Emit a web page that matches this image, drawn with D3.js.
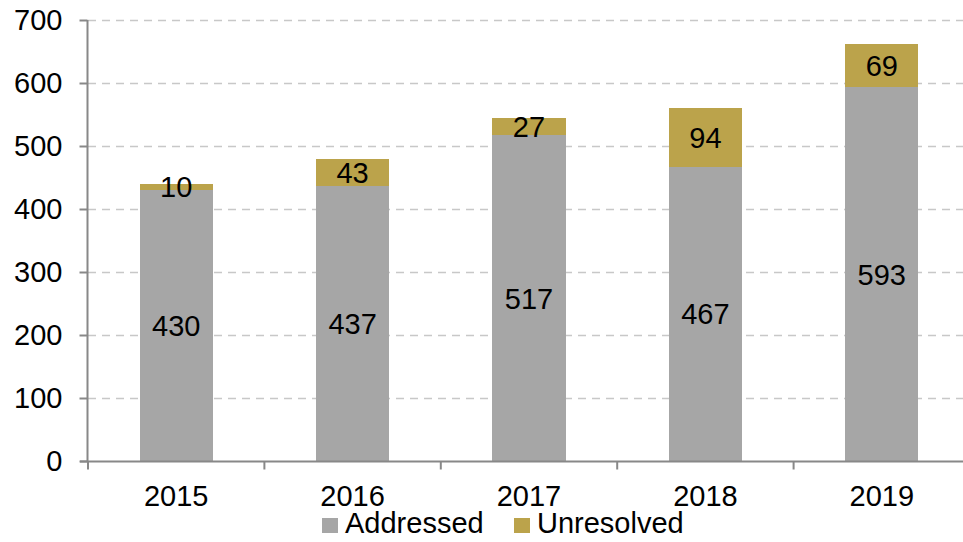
<!DOCTYPE html>
<html>
<head>
<meta charset="utf-8">
<script src="https://cdn.jsdelivr.net/npm/d3@7"></script>
<style>
  body { margin: 0; background: #fff; }
  text { font-family: "Liberation Sans", Arial, sans-serif; }
</style>
</head>
<body>
<div id="g"></div>
<script>
// chart data
var years = ["2015", "2016", "2017", "2018", "2019"];
var addressed = [430, 437, 517, 467, 593];
var unresolved = [10, 43, 27, 94, 69];
var yTicks = [0, 100, 200, 300, 400, 500, 600, 700];
var seriesNames = ["Addressed", "Unresolved"];
var seriesColors = ["#a6a6a6", "#bba34b"];

var WIDTH = 963, HEIGHT = 542;
var FONT = 29;
var plotLeft = 88, plotRight = 970, plotTop = 20, plotBottom = 461;

var svg = d3.select("#g").append("svg")
    .attr("width", WIDTH)
    .attr("height", HEIGHT);

var x = d3.scaleBand().domain(years).range([plotLeft, plotRight]).paddingInner(0.586).paddingOuter(0.293);
var y = d3.scaleLinear().domain([0, 700]).range([plotBottom, plotTop]);

// gridlines
svg.append("g").selectAll("line")
    .data(yTicks.slice(1))
    .enter().append("line")
    .attr("x1", plotLeft).attr("x2", plotRight)
    .attr("y1", function(d){ return y(d) + 0.5; })
    .attr("y2", function(d){ return y(d) + 0.5; })
    .attr("stroke", "#c8c8c8")
    .attr("stroke-width", 1.3)
    .attr("stroke-dasharray", "8,6");

// stacked bars
var rows = years.map(function(yr, i){
    return {year: yr, Addressed: addressed[i], Unresolved: unresolved[i]};
});
var stack = d3.stack().keys(seriesNames)(rows);

var layers = svg.append("g").selectAll("g")
    .data(stack)
    .enter().append("g")
    .attr("fill", function(d, i){ return seriesColors[i]; });

layers.selectAll("rect")
    .data(function(d){ return d; })
    .enter().append("rect")
    .attr("x", function(d){ return x(d.data.year); })
    .attr("width", x.bandwidth())
    .attr("y", function(d){ return y(d[1]); })
    .attr("height", function(d){ return y(d[0]) - y(d[1]); })
    .attr("shape-rendering", "crispEdges");

layers.selectAll("text")
    .data(function(d){ return d; })
    .enter().append("text")
    .attr("x", function(d){ return x(d.data.year) + x.bandwidth()/2; })
    .attr("y", function(d){ return y((d[0] + d[1]) / 2); })
    .attr("dy", "0.36em")
    .attr("text-anchor", "middle")
    .attr("font-size", FONT)
    .attr("fill", "#000")
    .text(function(d){ return d[1] - d[0]; });

// y axis
var yAxis = svg.append("g")
    .attr("transform", "translate(" + (plotLeft - 0.5) + ",0)")
    .call(d3.axisLeft(y).tickValues(yTicks).tickSize(8).tickPadding(17));
yAxis.selectAll("text").attr("font-size", FONT).attr("fill", "#000")
    .attr("font-family", "Liberation Sans, Arial, sans-serif");
yAxis.selectAll("line, path").attr("stroke", "#888").attr("stroke-width", 2);
yAxis.select("path").attr("d", "M0," + plotTop + "V" + (plotBottom + 1));

// x axis, ticks at category boundaries
var xAxisG = svg.append("g").attr("transform", "translate(0," + (plotBottom + 0.5) + ")");
xAxisG.append("line")
    .attr("x1", plotLeft - 8).attr("x2", plotRight)
    .attr("stroke", "#888").attr("stroke-width", 2);
var step = x.step();
var bounds = d3.range(years.length + 1).map(function(i){ return plotLeft + i * step; });
xAxisG.selectAll(".bt").data(bounds).enter().append("line")
    .attr("class", "bt")
    .attr("x1", function(d){ return d; }).attr("x2", function(d){ return d; })
    .attr("y1", 0).attr("y2", 8)
    .attr("stroke", "#888").attr("stroke-width", 2);
xAxisG.selectAll("text").data(years).enter().append("text")
    .attr("x", function(d){ return x(d) + x.bandwidth()/2; })
    .attr("y", 44)
    .attr("text-anchor", "middle")
    .attr("font-size", FONT)
    .attr("fill", "#000")
    .text(function(d){ return d; });

// legend
var legendX = [322, 514];
var legend = svg.append("g").selectAll("g")
    .data(seriesNames)
    .enter().append("g")
    .attr("transform", function(d, i){ return "translate(" + legendX[i] + ",518)"; });
legend.append("rect")
    .attr("width", 16).attr("height", 15)
    .attr("fill", function(d, i){ return seriesColors[i]; });
legend.append("text")
    .attr("x", 23).attr("y", 15)
    .attr("font-size", FONT)
    .attr("fill", "#000")
    .text(function(d){ return d; });
</script>
</body>
</html>
